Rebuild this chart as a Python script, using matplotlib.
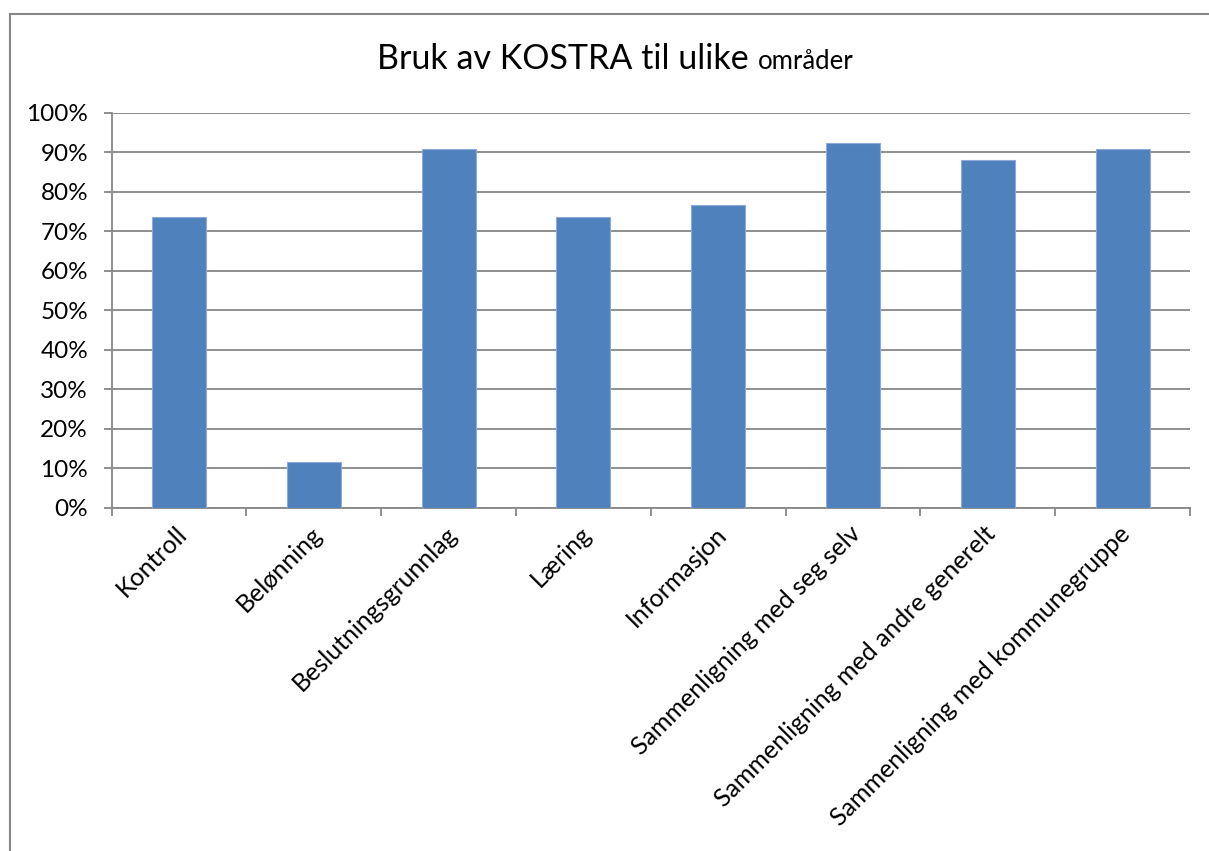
import matplotlib
matplotlib.use("Agg")
import matplotlib.pyplot as plt
from matplotlib.lines import Line2D
from matplotlib.ticker import PercentFormatter

categories = ["Kontroll", "Belønning", "Beslutningsgrunnlag", "Læring", "Informasjon",
              "Sammenligning med seg selv", "Sammenligning med andre generelt",
              "Sammenligning med kommunegruppe"]
values = [0.736, 0.116, 0.907, 0.736, 0.765, 0.922, 0.879, 0.907]
title_main = "Bruk av KOSTRA til ulike "
title_tail = "områder"

plt.rcParams['font.family'] = ['Lato', 'DejaVu Sans']

W, H = 1209, 851
fig = plt.figure(figsize=(W / 100, H / 100), dpi=100)
ax = fig.add_axes([111.7 / W, 1 - 508 / H, (1190 - 111.7) / W, (508 - 112.5) / H])

grid_c = "#878787"
x = list(range(len(categories)))
ax.bar(x, values, width=0.4, color="#4F81BD", edgecolor="#8EAADB", linewidth=0.8, zorder=3)
ax.set_xlim(-0.5, len(categories) - 0.5)
ax.set_ylim(0, 1)
ax.set_yticks([i / 10 for i in range(11)])
ax.yaxis.set_major_formatter(PercentFormatter(1.0, decimals=0))
ax.grid(axis='y', color=grid_c, linewidth=1.3, zorder=0)
ax.set_axisbelow(True)
for s in ['top', 'right']:
    ax.spines[s].set_visible(False)
for s in ['left', 'bottom']:
    ax.spines[s].set_color(grid_c)
    ax.spines[s].set_linewidth(1.3)
ax.tick_params(axis='y', length=6, width=1.3, color=grid_c, labelsize=17.5, pad=11, labelcolor='black')

# x ticks at category boundaries
ax.set_xticks([i - 0.5 for i in range(len(categories) + 1)])
ax.set_xticklabels([])
ax.tick_params(axis='x', length=6, width=1.3, color=grid_c, direction='out')
for xi, lab in zip(x, categories):
    ax.annotate(lab, xy=(xi, 0), xycoords=('data', 'axes fraction'),
                xytext=(3, -16), textcoords='offset points',
                rotation=45, ha='right', va='center', rotation_mode='anchor',
                fontsize=18)

# title with mixed sizes
fig.canvas.draw()
r = fig.canvas.get_renderer()
t1 = fig.text(0, 1 - 69 / H, title_main, fontsize=24.5, va='baseline', ha='left')
t2 = fig.text(0, 1 - 69 / H, title_tail, fontsize=18.5, va='baseline', ha='left')
w1 = t1.get_window_extent(r).width
w2 = t2.get_window_extent(r).width
start = 615.5 - (w1 + w2) / 2
t1.set_x(start / W)
t2.set_x((start + w1) / W)

# outer chart border (left and top)
fig.add_artist(Line2D([10 / W, 10 / W], [0, 1 - 14 / H], color=grid_c, linewidth=1.5, transform=fig.transFigure))
fig.add_artist(Line2D([10 / W, 1], [1 - 14 / H, 1 - 14 / H], color=grid_c, linewidth=1.5, transform=fig.transFigure))

fig.savefig("out.png", dpi=100)
